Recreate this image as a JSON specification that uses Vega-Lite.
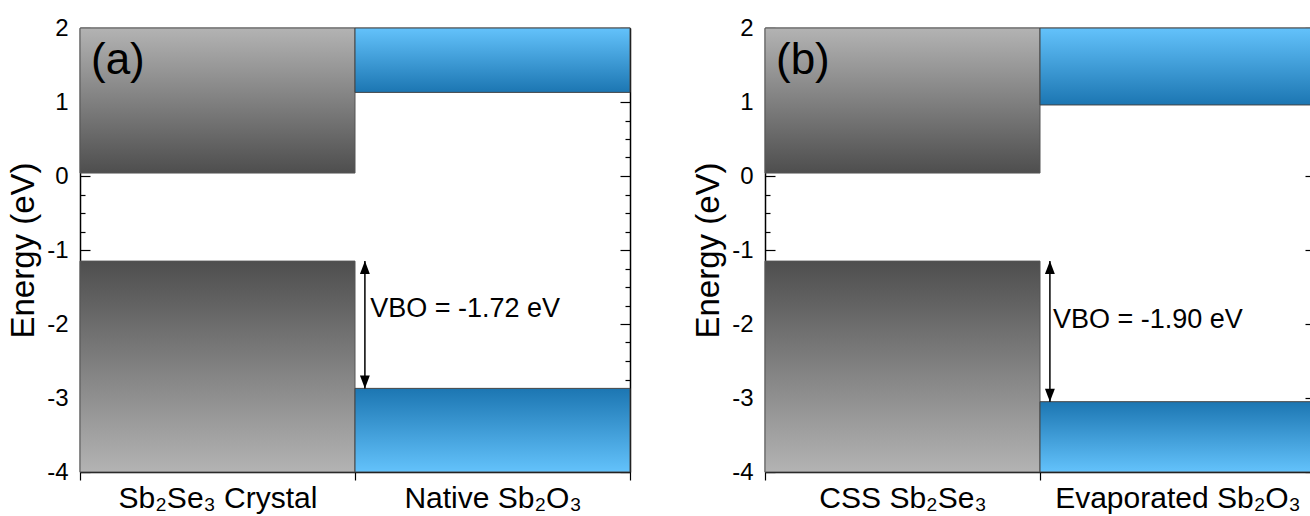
{
  "$schema": "https://vega.github.io/schema/vega-lite/v6.json",
  "padding": {"left": 7, "top": 16, "right": 5, "bottom": 5},
  "background": "white",
  "spacing": 61,
  "config": {
    "font": "Liberation Sans",
    "view": {"stroke": null},
    "axis": {"domainColor": "black", "domainWidth": 1.5, "tickColor": "black", "tickWidth": 1.2, "labelColor": "black", "titleColor": "black", "grid": false, "zindex": 1, "labelLimit": 0}
  },
  "datasets": {
    "a_bands": [
      {"material": "Sb₂Se₃ Crystal", "kind": "gray", "band": "CB", "lo": 0.04, "hi": 2},
      {"material": "Sb₂Se₃ Crystal", "kind": "gray", "band": "VB", "lo": -4, "hi": -1.15},
      {"material": "Native Sb₂O₃", "kind": "blue", "band": "CB", "lo": 1.13, "hi": 2},
      {"material": "Native Sb₂O₃", "kind": "blue", "band": "VB", "lo": -4, "hi": -2.87}
    ],
    "a_vbo": [{"material": "Native Sb₂O₃", "top": -1.15, "bottom": -2.87, "label": "VBO = -1.72 eV"}],
    "a_tag": [{"material": "Sb₂Se₃ Crystal", "label": "(a)"}],
    "b_bands": [
      {"material": "CSS Sb₂Se₃", "kind": "gray", "band": "CB", "lo": 0.04, "hi": 2},
      {"material": "CSS Sb₂Se₃", "kind": "gray", "band": "VB", "lo": -4, "hi": -1.15},
      {"material": "Evaporated Sb₂O₃", "kind": "blue", "band": "CB", "lo": 0.96, "hi": 2},
      {"material": "Evaporated Sb₂O₃", "kind": "blue", "band": "VB", "lo": -4, "hi": -3.05}
    ],
    "b_vbo": [{"material": "Evaporated Sb₂O₃", "top": -1.15, "bottom": -3.05, "label": "VBO = -1.90 eV"}],
    "b_tag": [{"material": "CSS Sb₂Se₃", "label": "(b)"}]
  },
  "hconcat": [
    {
      "width": 550, "height": 444,
      "resolve": {"axis": {"x": "independent", "y": "independent"}},
      "layer": [
        {
          "data": {"name": "a_bands"},
          "transform": [{"filter": "datum.kind === 'gray' && datum.band === 'CB'"}],
          "mark": {"type": "rect", "stroke": "#555", "strokeWidth": 1, "fill": {"gradient": "linear", "x1": 0, "y1": 0, "x2": 0, "y2": 1, "stops": [{"offset": 0, "color": "#b3b3b3"}, {"offset": 1, "color": "#4e4e4e"}]}},
          "encoding": {
            "x": {"field": "material", "type": "nominal", "scale": {"domain": ["Sb₂Se₃ Crystal", "Native Sb₂O₃"], "paddingInner": 0, "paddingOuter": 0},
                  "axis": {"orient": "bottom", "title": null, "tickBand": "extent", "tickSize": 8, "labelFontSize": 30, "labelPadding": 3, "labelAngle": 0}},
            "y": {"field": "lo", "type": "quantitative", "scale": {"domain": [-4, 2], "nice": false, "zero": false},
                  "axis": {"orient": "left", "title": "Energy (eV)", "titleFontSize": 33, "titleFontWeight": "normal", "titlePadding": 6,
                           "values": [-4,-3.75,-3.5,-3.25,-3,-2.75,-2.5,-2.25,-2,-1.75,-1.5,-1.25,-1,-0.75,-0.5,-0.25,0,0.25,0.5,0.75,1,1.25,1.5,1.75,2],
                           "labelExpr": "datum.value % 1 === 0 ? '' + datum.value : ''",
                           "tickSize": {"expr": "datum.value % 1 === 0 ? -10 : -5"},
                           "labelFontSize": 24, "labelPadding": 22}},
            "y2": {"field": "hi"}
          }
        },
        {
          "data": {"name": "a_bands"},
          "transform": [{"filter": "datum.kind === 'gray' && datum.band === 'VB'"}],
          "mark": {"type": "rect", "stroke": "#555", "strokeWidth": 1, "fill": {"gradient": "linear", "x1": 0, "y1": 0, "x2": 0, "y2": 1, "stops": [{"offset": 0, "color": "#4e4e4e"}, {"offset": 1, "color": "#b3b3b3"}]}},
          "encoding": {
            "x": {"field": "material", "type": "nominal", "axis": null},
            "y": {"field": "lo", "type": "quantitative", "axis": null},
            "y2": {"field": "hi"}
          }
        },
        {
          "data": {"name": "a_bands"},
          "transform": [{"filter": "datum.kind === 'blue' && datum.band === 'CB'"}],
          "mark": {"type": "rect", "stroke": "#444", "strokeWidth": 1, "fill": {"gradient": "linear", "x1": 0, "y1": 0, "x2": 0, "y2": 1, "stops": [{"offset": 0, "color": "#63c2fb"}, {"offset": 1, "color": "#1c76b2"}]}},
          "encoding": {
            "x": {"field": "material", "type": "nominal", "axis": {"orient": "top", "title": null, "labels": false, "ticks": false}},
            "y": {"field": "lo", "type": "quantitative",
                  "axis": {"orient": "right", "title": null, "labels": false,
                           "values": [-4,-3.75,-3.5,-3.25,-3,-2.75,-2.5,-2.25,-2,-1.75,-1.5,-1.25,-1,-0.75,-0.5,-0.25,0,0.25,0.5,0.75,1,1.25,1.5,1.75,2],
                           "tickSize": {"expr": "datum.value % 1 === 0 ? -10 : -5"}}},
            "y2": {"field": "hi"}
          }
        },
        {
          "data": {"name": "a_bands"},
          "transform": [{"filter": "datum.kind === 'blue' && datum.band === 'VB'"}],
          "mark": {"type": "rect", "stroke": "#444", "strokeWidth": 1, "fill": {"gradient": "linear", "x1": 0, "y1": 0, "x2": 0, "y2": 1, "stops": [{"offset": 0, "color": "#1c76b2"}, {"offset": 1, "color": "#63c2fb"}]}},
          "encoding": {
            "x": {"field": "material", "type": "nominal", "axis": null},
            "y": {"field": "lo", "type": "quantitative", "axis": null},
            "y2": {"field": "hi"}
          }
        },
        {
          "data": {"name": "a_vbo"},
          "mark": {"type": "rule", "color": "black", "strokeWidth": 1.5},
          "encoding": {
            "x": {"field": "material", "type": "nominal", "bandPosition": 0.036, "axis": null},
            "y": {"field": "top", "type": "quantitative", "axis": null},
            "y2": {"field": "bottom"}
          }
        },
        {
          "data": {"name": "a_vbo"},
          "mark": {"type": "point", "filled": true, "color": "black", "opacity": 1, "strokeWidth": 0, "size": 676, "shape": "M0,0L-0.38,1L0.38,1Z"},
          "encoding": {
            "x": {"field": "material", "type": "nominal", "bandPosition": 0.036, "axis": null},
            "y": {"field": "top", "type": "quantitative", "axis": null}
          }
        },
        {
          "data": {"name": "a_vbo"},
          "mark": {"type": "point", "filled": true, "color": "black", "opacity": 1, "strokeWidth": 0, "size": 676, "shape": "M0,0L-0.38,-1L0.38,-1Z"},
          "encoding": {
            "x": {"field": "material", "type": "nominal", "bandPosition": 0.036, "axis": null},
            "y": {"field": "bottom", "type": "quantitative", "axis": null}
          }
        },
        {
          "data": {"name": "a_vbo"},
          "mark": {"type": "text", "align": "left", "baseline": "middle", "fontSize": 27, "color": "black"},
          "encoding": {
            "x": {"field": "material", "type": "nominal", "bandPosition": 0.055, "axis": null},
            "y": {"datum": -1.8, "type": "quantitative", "axis": null},
            "text": {"field": "label"}
          }
        },
        {
          "data": {"name": "a_tag"},
          "mark": {"type": "text", "align": "left", "baseline": "middle", "fontSize": 44, "color": "black"},
          "encoding": {
            "x": {"field": "material", "type": "nominal", "bandPosition": 0.04, "axis": null},
            "y": {"datum": 1.55, "type": "quantitative", "axis": null},
            "text": {"field": "label"}
          }
        }
      ]
    },
    {
      "width": 550, "height": 444,
      "resolve": {"axis": {"x": "independent", "y": "independent"}},
      "layer": [
        {
          "data": {"name": "b_bands"},
          "transform": [{"filter": "datum.kind === 'gray' && datum.band === 'CB'"}],
          "mark": {"type": "rect", "stroke": "#555", "strokeWidth": 1, "fill": {"gradient": "linear", "x1": 0, "y1": 0, "x2": 0, "y2": 1, "stops": [{"offset": 0, "color": "#b3b3b3"}, {"offset": 1, "color": "#4e4e4e"}]}},
          "encoding": {
            "x": {"field": "material", "type": "nominal", "scale": {"domain": ["CSS Sb₂Se₃", "Evaporated Sb₂O₃"], "paddingInner": 0, "paddingOuter": 0},
                  "axis": {"orient": "bottom", "title": null, "tickBand": "extent", "tickSize": 8, "labelFontSize": 30, "labelPadding": 3, "labelAngle": 0}},
            "y": {"field": "lo", "type": "quantitative", "scale": {"domain": [-4, 2], "nice": false, "zero": false},
                  "axis": {"orient": "left", "title": "Energy (eV)", "titleFontSize": 33, "titleFontWeight": "normal", "titlePadding": 6,
                           "values": [-4,-3.75,-3.5,-3.25,-3,-2.75,-2.5,-2.25,-2,-1.75,-1.5,-1.25,-1,-0.75,-0.5,-0.25,0,0.25,0.5,0.75,1,1.25,1.5,1.75,2],
                           "labelExpr": "datum.value % 1 === 0 ? '' + datum.value : ''",
                           "tickSize": {"expr": "datum.value % 1 === 0 ? -10 : -5"},
                           "labelFontSize": 24, "labelPadding": 22}},
            "y2": {"field": "hi"}
          }
        },
        {
          "data": {"name": "b_bands"},
          "transform": [{"filter": "datum.kind === 'gray' && datum.band === 'VB'"}],
          "mark": {"type": "rect", "stroke": "#555", "strokeWidth": 1, "fill": {"gradient": "linear", "x1": 0, "y1": 0, "x2": 0, "y2": 1, "stops": [{"offset": 0, "color": "#4e4e4e"}, {"offset": 1, "color": "#b3b3b3"}]}},
          "encoding": {
            "x": {"field": "material", "type": "nominal", "axis": null},
            "y": {"field": "lo", "type": "quantitative", "axis": null},
            "y2": {"field": "hi"}
          }
        },
        {
          "data": {"name": "b_bands"},
          "transform": [{"filter": "datum.kind === 'blue' && datum.band === 'CB'"}],
          "mark": {"type": "rect", "stroke": "#444", "strokeWidth": 1, "fill": {"gradient": "linear", "x1": 0, "y1": 0, "x2": 0, "y2": 1, "stops": [{"offset": 0, "color": "#63c2fb"}, {"offset": 1, "color": "#1c76b2"}]}},
          "encoding": {
            "x": {"field": "material", "type": "nominal", "axis": {"orient": "top", "title": null, "labels": false, "ticks": false}},
            "y": {"field": "lo", "type": "quantitative",
                  "axis": {"orient": "right", "title": null, "labels": false,
                           "values": [-4,-3.75,-3.5,-3.25,-3,-2.75,-2.5,-2.25,-2,-1.75,-1.5,-1.25,-1,-0.75,-0.5,-0.25,0,0.25,0.5,0.75,1,1.25,1.5,1.75,2],
                           "tickSize": {"expr": "datum.value % 1 === 0 ? -10 : -5"}}},
            "y2": {"field": "hi"}
          }
        },
        {
          "data": {"name": "b_bands"},
          "transform": [{"filter": "datum.kind === 'blue' && datum.band === 'VB'"}],
          "mark": {"type": "rect", "stroke": "#444", "strokeWidth": 1, "fill": {"gradient": "linear", "x1": 0, "y1": 0, "x2": 0, "y2": 1, "stops": [{"offset": 0, "color": "#1c76b2"}, {"offset": 1, "color": "#63c2fb"}]}},
          "encoding": {
            "x": {"field": "material", "type": "nominal", "axis": null},
            "y": {"field": "lo", "type": "quantitative", "axis": null},
            "y2": {"field": "hi"}
          }
        },
        {
          "data": {"name": "b_vbo"},
          "mark": {"type": "rule", "color": "black", "strokeWidth": 1.5},
          "encoding": {
            "x": {"field": "material", "type": "nominal", "bandPosition": 0.036, "axis": null},
            "y": {"field": "top", "type": "quantitative", "axis": null},
            "y2": {"field": "bottom"}
          }
        },
        {
          "data": {"name": "b_vbo"},
          "mark": {"type": "point", "filled": true, "color": "black", "opacity": 1, "strokeWidth": 0, "size": 676, "shape": "M0,0L-0.38,1L0.38,1Z"},
          "encoding": {
            "x": {"field": "material", "type": "nominal", "bandPosition": 0.036, "axis": null},
            "y": {"field": "top", "type": "quantitative", "axis": null}
          }
        },
        {
          "data": {"name": "b_vbo"},
          "mark": {"type": "point", "filled": true, "color": "black", "opacity": 1, "strokeWidth": 0, "size": 676, "shape": "M0,0L-0.38,-1L0.38,-1Z"},
          "encoding": {
            "x": {"field": "material", "type": "nominal", "bandPosition": 0.036, "axis": null},
            "y": {"field": "bottom", "type": "quantitative", "axis": null}
          }
        },
        {
          "data": {"name": "b_vbo"},
          "mark": {"type": "text", "align": "left", "baseline": "middle", "fontSize": 27, "color": "black"},
          "encoding": {
            "x": {"field": "material", "type": "nominal", "bandPosition": 0.047, "axis": null},
            "y": {"datum": -1.95, "type": "quantitative", "axis": null},
            "text": {"field": "label"}
          }
        },
        {
          "data": {"name": "b_tag"},
          "mark": {"type": "text", "align": "left", "baseline": "middle", "fontSize": 44, "color": "black"},
          "encoding": {
            "x": {"field": "material", "type": "nominal", "bandPosition": 0.04, "axis": null},
            "y": {"datum": 1.55, "type": "quantitative", "axis": null},
            "text": {"field": "label"}
          }
        }
      ]
    }
  ]
}
